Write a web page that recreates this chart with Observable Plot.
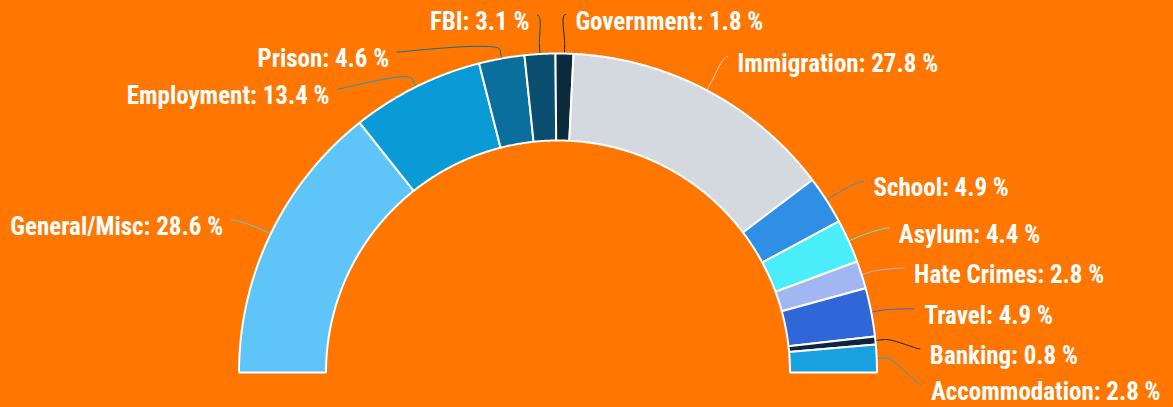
<!DOCTYPE html>
<html><head><meta charset="utf-8">
<script src="https://cdn.jsdelivr.net/npm/d3@7"></script>
<script src="https://cdn.jsdelivr.net/npm/@observablehq/plot@0.6"></script>
<style>
html,body{margin:0;padding:0;background:#ff7700;overflow:hidden}
#chart svg{display:block}
</style></head><body><div id="chart"></div>
<script>
// ---- data ----
const categories = ["General/Misc","Employment","Prison","FBI","Government","Immigration","School","Asylum","Hate Crimes","Travel","Banking","Accommodation"];
const shares = [28.6,13.4,4.6,3.1,1.8,27.8,4.9,4.4,2.8,4.9,0.8,2.8];
const colors = ["#5fc4f8","#0a9ad5","#0a6f9c","#0a4f70","#0c2b3f","#d4d8df","#2e8fe4","#4aeefa","#a2b6f2","#2f67d8","#0e2541","#19a2df"];

// ---- layout ----
const W = 1173, H = 407;
const cx = 557.5, cy = 372, rOuter = 319, rInner = 232;
const labelR = 363, labelCy = cy + 5;
const labelGap = {left: 37, right: 40};
const total = d3.sum(shares);
const pt = (r, a) => [cx - r * Math.cos(a), cy - r * Math.sin(a)];

let cum = 0;
const slices = categories.map((name, i) => {
  const a0 = cum / total * Math.PI;
  cum += shares[i];
  const a1 = cum / total * Math.PI;
  return {name, value: shares[i], a0, a1, am: (a0 + a1) / 2};
});

// slice polygons
const slicePts = [];
for (const s of slices) {
  const n = Math.max(2, Math.ceil((s.a1 - s.a0) / 0.005));
  for (let k = 0; k <= n; k++) {
    const [x, y] = pt(rOuter, s.a0 + (s.a1 - s.a0) * k / n);
    slicePts.push({name: s.name, x, y});
  }
  for (let k = n; k >= 0; k--) {
    const [x, y] = pt(rInner, s.a0 + (s.a1 - s.a0) * k / n);
    slicePts.push({name: s.name, x, y});
  }
}

// label placement (pushed down to avoid overlap, kept inside the frame)
for (const s of slices) {
  s.side = s.am < Math.PI / 2 ? "left" : "right";
  s.ly = labelCy - labelR * Math.sin(s.am);
}
for (const side of ["left", "right"]) {
  const group = slices.filter(s => s.side === side).sort((a, b) => a.ly - b.ly);
  let prev = -Infinity;
  for (const s of group) {
    s.ly = Math.min(Math.max(s.ly, prev + labelGap[side]), H - 23);
    prev = s.ly;
    const dy = labelCy - s.ly;
    const dx = Math.sqrt(Math.max(0, labelR * labelR - dy * dy));
    s.lx = side === "left" ? cx - dx : cx + dx;
    s.tx = side === "left" ? s.lx - 8 : s.lx + 10;
    s.ty = s.ly + 7;
    s.label = `${s.name}: ${d3.format(".1f")(s.value)} %`;
  }
}

// connectors: soft curve from label to break point, then straight to slice
const connPts = [];
for (const s of slices) {
  const touch = pt(rOuter, s.am);
  const brk = pt(rOuter + 9, s.am);
  const c2 = pt(rOuter + 18, s.am);
  const p0 = [s.lx, s.ly];
  const c1 = [s.lx + (s.side === "left" ? 5 : -5), s.ly];
  const N = 24;
  for (let k = 0; k <= N; k++) {
    const t = k / N, u = 1 - t;
    const x = u*u*u*p0[0] + 3*u*u*t*c1[0] + 3*u*t*t*c2[0] + t*t*t*brk[0];
    const y = u*u*u*p0[1] + 3*u*u*t*c1[1] + 3*u*t*t*c2[1] + t*t*t*brk[1];
    connPts.push({name: s.name, x, y});
  }
  connPts.push({name: s.name, x: touch[0], y: touch[1]});
}

const font = "'Liberation Sans Narrow', 'Roboto Condensed', 'DejaVu Sans Condensed', sans-serif";

const chart = Plot.plot({
  width: W, height: H,
  margin: 0,
  style: {background: "#ff7700", fontFamily: font},
  x: {domain: [0, W], range: [0, W], axis: null},
  y: {domain: [0, H], range: [0, H], axis: null},
  color: {domain: categories, range: colors},
  marks: [
    Plot.line(connPts, {x: "x", y: "y", z: "name", stroke: "name", strokeWidth: 1, curve: "linear"}),
    Plot.line(slicePts, {x: "x", y: "y", z: "name", fill: "name", stroke: "white", strokeWidth: 2, curve: "linear-closed", strokeLinejoin: "miter"}),
    Plot.text(slices.filter(s => s.side === "left"), {x: "tx", y: "ty", text: "label", textAnchor: "end", fill: "white", fontSize: 25, fontWeight: "bold", fontFamily: font}),
    Plot.text(slices.filter(s => s.side === "right"), {x: "tx", y: "ty", text: "label", textAnchor: "start", fill: "white", fontSize: 25, fontWeight: "bold", fontFamily: font})
  ]
});
document.getElementById("chart").appendChild(chart);
</script>
</body></html>
